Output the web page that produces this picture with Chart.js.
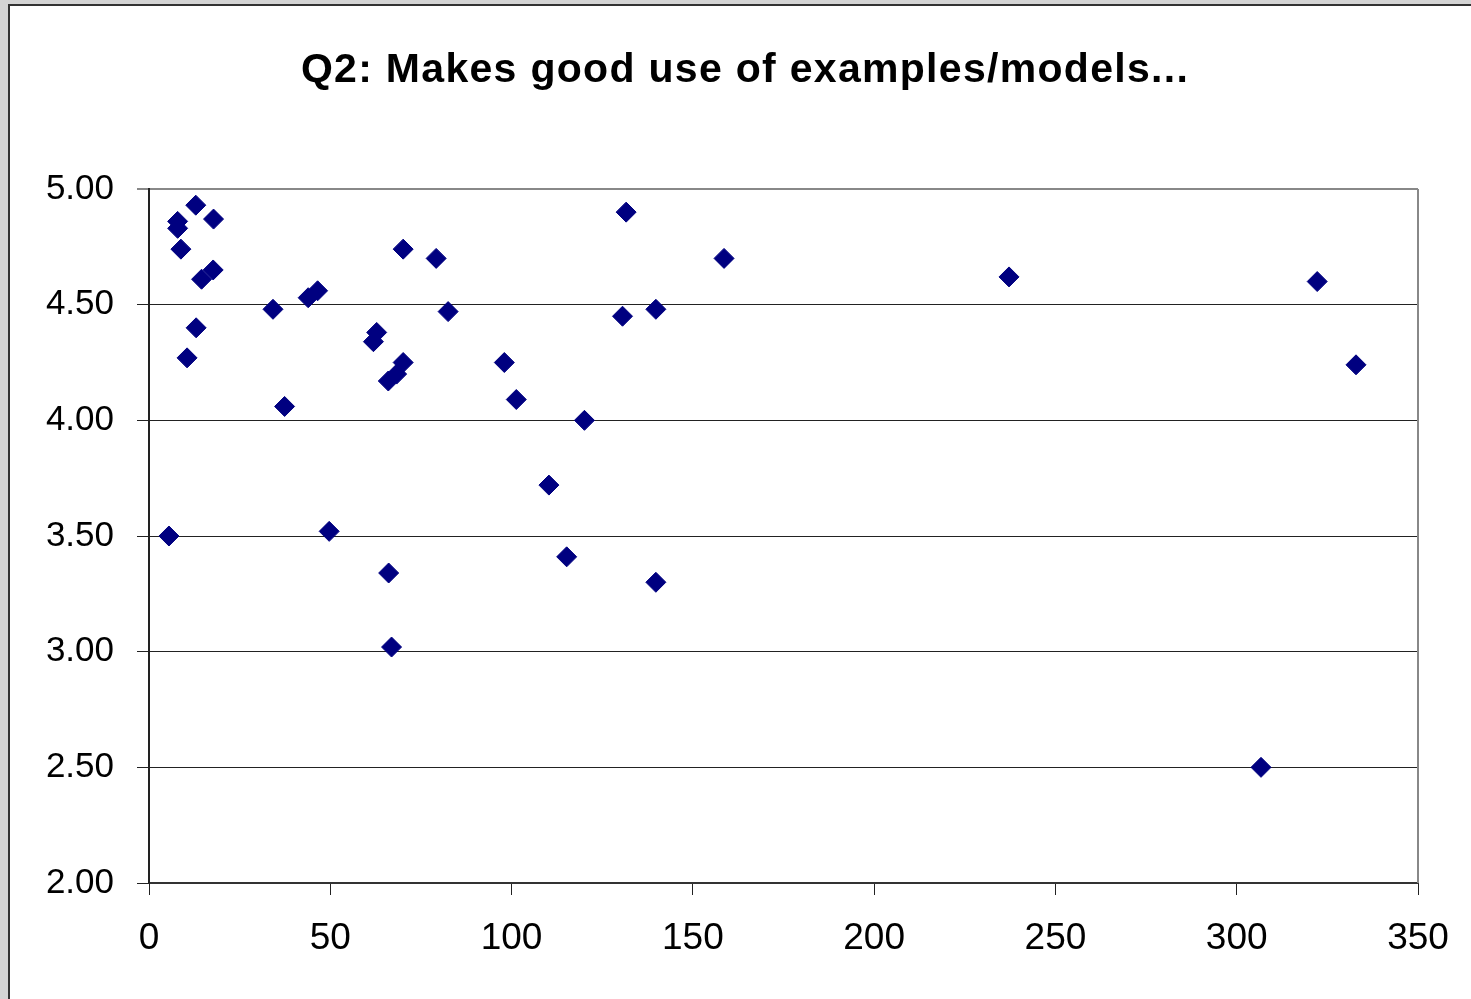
<!DOCTYPE html>
<html>
<head>
<meta charset="utf-8">
<script src="https://cdn.jsdelivr.net/npm/chart.js@4.4.1/dist/chart.umd.min.js"></script>
<style>
  html, body { margin: 0; padding: 0; }
  body {
    width: 1471px; height: 999px; overflow: hidden; position: relative;
    background: #d4d4d4;
  }
  #panel {
    position: absolute; left: 8px; top: 4px; width: 1480px; height: 1010px;
    background: #fff; border: 2px solid #333;
  }
  #wrap { position: absolute; left: 0; top: 0; width: 1471px; height: 999px; }
</style>
</head>
<body>
<div id="panel"></div>
<div id="wrap"><canvas id="myChart" width="1471" height="999"></canvas></div>
<script>
// Enrolment (x) vs mean score for Q2 (y)
const xValues = [5.5, 7.9, 7.9, 8.8, 12.9, 17.8, 14.5, 17.7, 13.0, 10.5,
                 34.2, 37.4, 43.9, 46.5, 49.7, 61.9, 62.8, 66.0, 68.3, 70.1,
                 70.1, 66.1, 66.9, 79.2, 82.5, 98.0, 101.3, 110.3, 115.2, 120.1,
                 130.6, 131.6, 139.8, 139.8, 158.6, 237.2, 306.7, 322.2, 332.9];
const yValues = [3.50, 4.86, 4.83, 4.74, 4.93, 4.87, 4.61, 4.65, 4.40, 4.27,
                 4.48, 4.06, 4.53, 4.56, 3.52, 4.34, 4.38, 4.17, 4.20, 4.25,
                 4.74, 3.34, 3.02, 4.70, 4.47, 4.25, 4.09, 3.72, 3.41, 4.00,
                 4.45, 4.90, 4.48, 3.30, 4.70, 4.62, 2.50, 4.60, 4.24];
const xTicks = [0, 50, 100, 150, 200, 250, 300, 350];
const yTicks = [2.00, 2.50, 3.00, 3.50, 4.00, 4.50, 5.00];
const chartTitle = 'Q2: Makes good use of examples/models...';

const points = xValues.map((x, i) => ({ x: x, y: yValues[i] }));
const FONT = '"Liberation Sans", Arial, sans-serif';

// gray frame on the right of the plot area + spaced-out title
const plotFrame = {
    id: 'plotFrame',
    beforeDatasetsDraw(chart) {
        const a = chart.chartArea;
        const ctx = chart.ctx;
        ctx.save();
        ctx.strokeStyle = '#888';
        ctx.lineWidth = 2;
        ctx.beginPath();
        ctx.moveTo(a.right, a.top);
        ctx.lineTo(a.right, a.bottom);
        ctx.stroke();
        ctx.restore();
    },
    afterDraw(chart) {
        const ctx = chart.ctx;
        ctx.save();
        ctx.font = 'bold 41px ' + FONT;
        ctx.letterSpacing = '1.3px';
        ctx.fillStyle = '#000';
        ctx.textAlign = 'center';
        ctx.textBaseline = 'alphabetic';
        ctx.fillText(chartTitle, 745, 82);
        ctx.restore();
    }
};

const ctx = document.getElementById('myChart').getContext('2d');
new Chart(ctx, {
    type: 'scatter',
    data: {
        datasets: [{
            data: points,
            pointStyle: 'rectRot',
            pointRadius: 10,
            pointHoverRadius: 10,
            backgroundColor: '#000080',
            borderColor: '#000080',
            borderWidth: 1
        }]
    },
    options: {
        responsive: false,
        animation: false,
        layout: { padding: { left: 0, right: 53, top: 189, bottom: 0 } },
        plugins: {
            legend: { display: false },
            tooltip: { enabled: false },
            title: { display: false }
        },
        scales: {
            x: {
                type: 'linear',
                min: 0, max: 350,
                afterBuildTicks: s => { s.ticks = xTicks.map(v => ({ value: v })); },
                afterFit: s => { s.height = 999 - 883; },
                ticks: {
                    color: '#000',
                    padding: 22,
                    maxRotation: 0,
                    font: { family: FONT, size: 37 },
                    callback: v => String(v)
                },
                grid: { drawOnChartArea: false, tickLength: 12, color: '#222', tickWidth: 1 },
                border: { color: '#333', width: 2 }
            },
            y: {
                type: 'linear',
                min: 2, max: 5,
                afterBuildTicks: s => { s.ticks = yTicks.map(v => ({ value: v })); },
                afterFit: s => { s.width = 149; },
                ticks: {
                    color: '#000',
                    padding: 23,
                    font: { family: FONT, size: 35 },
                    callback: v => Number(v).toFixed(2)
                },
                grid: {
                    tickLength: 12,
                    lineWidth: c => (c.tick && c.tick.value === 5 ? 2 : 1),
                    color: c => (c.tick && c.tick.value === 5 ? '#888' : '#222')
                },
                border: { color: '#222', width: 2 }
            }
        }
    },
    plugins: [plotFrame]
});
</script>
</body>
</html>
